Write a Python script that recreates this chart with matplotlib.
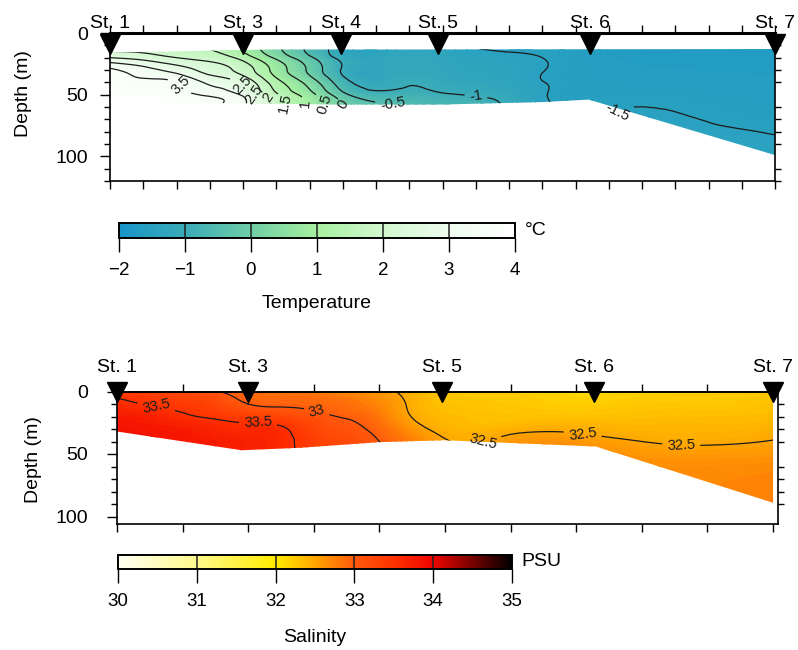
import numpy as np
import matplotlib
matplotlib.use("Agg")
import matplotlib.pyplot as plt
import matplotlib.tri as mtri
import matplotlib.transforms as mtransforms
from matplotlib.colors import LinearSegmentedColormap, Normalize
from matplotlib.patches import Polygon
from matplotlib.ticker import MultipleLocator
from matplotlib.cm import ScalarMappable

plt.rcParams['font.family'] = ['Liberation Sans', 'DejaVu Sans']

# stations (distance along section, km)
temp_stations = ['St. 1', 'St. 3', 'St. 4', 'St. 5', 'St. 6', 'St. 7']
temp_station_km = [0, 40, 69.5, 98.5, 144.5, 200]
sal_stations = ['St. 1', 'St. 3', 'St. 5', 'St. 6', 'St. 7']
sal_station_km = [0, 40, 99, 145.5, 200]

# ---- temperature section (deg C) ----
t_dist = [0, 10, 20, 30, 40, 50, 60, 70, 85, 100, 115, 130, 145, 170, 200]
t_depth = [10, 20, 30, 40, 50, 60, 80, 100]
t_10m = [1.6, 1.7, 1.7, 1.4, 0.9, 0.1, -0.6, -1.2, -1.3, -1.35, -1.6, -1.62, -1.65, -1.7, -1.7]
t_20m = [2.5, 2.3, 2.0, 1.8, 1.3, 0.4, -0.4, -1.15, -1.25, -1.3, -1.42, -1.5, -1.62, -1.68, -1.68]
t_30m = [3.6, 3.2, 2.8, 2.3, 1.8, 0.8, -0.1, -1.05, -1.2, -1.25, -1.35, -1.49, -1.6, -1.65, -1.66]
t_40m = [3.8, 3.6, 3.5, 2.9, 2.4, 1.2, 0.3, -0.8, -1.1, -1.15, -1.28, -1.49, -1.6, -1.62, -1.64]
t_50m = [3.9, 3.8, 3.7, 3.4, 2.9, 1.6, 0.7, -0.35, -0.85, -0.95, -1.1, -1.47, -1.58, -1.58, -1.62]
t_60m = [3.9, 3.9, 3.8, 3.6, 3.1, 1.8, 0.9, 0.05, -0.45, -0.7, -0.9, -1.45, -1.53, -1.52, -1.6]
t_80m = [3.9, 3.9, 3.9, 3.7, 3.2, 1.9, 1.0, 0.2, -0.4, -0.65, -0.85, -1.4, -1.45, -1.4, -1.52]
t_100m = [3.9, 3.9, 3.9, 3.7, 3.2, 1.9, 1.0, 0.2, -0.4, -0.65, -0.85, -1.38, -1.42, -1.35, -1.4]
# sampled area: upper and lower limits
t_top_km = [0, 47, 200]
t_top_d = [16, 13.5, 13]
t_bot_km = [0, 40, 70, 100, 130, 144, 200]
t_bot_d = [56, 57, 58, 58, 56, 54, 99]

# ---- salinity section (PSU) ----
s_dist = [0, 10, 20, 30, 40, 50, 60, 70, 80, 90, 100, 120, 140, 160, 180, 200]
s_depth = [0, 10, 20, 30, 40, 50, 70, 100]
s_0m = [33.42, 33.35, 33.2, 33.02, 32.9, 32.85, 32.8, 32.7, 32.6, 32.4, 32.25, 32.2, 32.15, 32.18, 32.2, 32.25]
s_10m = [33.58, 33.48, 33.4, 33.25, 33.0, 32.95, 32.92, 32.85, 32.7, 32.45, 32.3, 32.25, 32.2, 32.25, 32.25, 32.3]
s_20m = [33.75, 33.7, 33.55, 33.45, 33.35, 33.25, 33.1, 32.97, 32.8, 32.49, 32.35, 32.3, 32.3, 32.32, 32.33, 32.35]
s_30m = [33.85, 33.8, 33.75, 33.65, 33.6, 33.55, 33.25, 33.1, 32.9, 32.62, 32.42, 32.42, 32.45, 32.4, 32.4, 32.42]
s_40m = [33.9, 33.85, 33.8, 33.75, 33.7, 33.6, 33.35, 33.2, 33.0, 32.75, 32.52, 32.58, 32.6, 32.5, 32.47, 32.51]
s_50m = [33.9, 33.85, 33.8, 33.75, 33.7, 33.6, 33.4, 33.25, 33.05, 32.8, 32.6, 32.65, 32.7, 32.6, 32.58, 32.6]
s_70m = [33.9, 33.85, 33.8, 33.75, 33.7, 33.6, 33.4, 33.25, 33.05, 32.82, 32.65, 32.7, 32.75, 32.7, 32.7, 32.72]
s_100m = [33.9, 33.85, 33.8, 33.75, 33.7, 33.6, 33.4, 33.25, 33.05, 32.82, 32.65, 32.7, 32.75, 32.72, 32.75, 32.78]
s_top_km = [0, 200]
s_top_d = [0, 0]
s_bot_km = [0, 38, 56, 80, 100, 146, 200]
s_bot_d = [32, 47, 45, 40.5, 39, 44, 89]

# colour scales
temp_cmap = LinearSegmentedColormap.from_list('temp', [
    (0.0, '#1895c8'), (1/6, '#3aacb8'), (2/6, '#6fcea6'), (3/6, '#a6f0a0'),
    (4/6, '#d2f8cf'), (5/6, '#eefcee'), (1.0, '#ffffff')])
sal_cmap = LinearSegmentedColormap.from_list('sal', [
    (0.0, '#fffff2'), (0.2, '#fffa8c'), (0.4, '#ffeb00'), (0.5, '#ffa600'),
    (0.6, '#ff5a0c'), (0.7, '#ff3300'), (0.8, '#f00500'), (1.0, '#000000')])
temp_norm = Normalize(-2, 4)
sal_norm = Normalize(30, 35)


def section(ax, dist, depth, rows, top_km, top_d, bot_km, bot_d,
            cmap, norm, line_levels, label_pos):
    X, Y = np.meshgrid(dist, depth)
    Z = np.array(rows)
    tri = mtri.Triangulation(X.ravel(), Y.ravel())
    tri_f, z_f = mtri.UniformTriRefiner(tri).refine_field(Z.ravel(), subdiv=3)
    verts = list(zip(top_km, top_d)) + list(zip(bot_km[::-1], bot_d[::-1]))
    area = Polygon(verts, closed=True, facecolor='none', edgecolor='none')
    ax.add_patch(area)
    cf = ax.tricontourf(tri_f, z_f, levels=np.linspace(norm.vmin, norm.vmax, 121),
                        cmap=cmap, norm=norm, extend='both')
    cf.set_clip_path(area)
    cl = ax.tricontour(tri_f, z_f, levels=line_levels, colors='#1c1c1c',
                       linewidths=0.9, linestyles='solid')
    cl.set_clip_path(area)
    ax.clabel(cl, manual=label_pos, inline=True, fontsize=10.5, fmt='%g', colors='#1c1c1c')


def frame(ax, xmax, ymax, xstep, names, km, marker_dy, name_dy, top_lw, ypad, ylab_xy):
    ax.set_xlim(0, xmax)
    ax.set_ylim(ymax, 0)
    ax.xaxis.set_major_locator(MultipleLocator(xstep))
    ax.yaxis.set_major_locator(MultipleLocator(50))
    ax.yaxis.set_minor_locator(MultipleLocator(10))
    ax.tick_params(axis='x', which='both', top=True, bottom=True, direction='out',
                   length=6, width=1, labelbottom=False, labeltop=False)
    ax.tick_params(axis='y', which='major', left=True, right=False, direction='out',
                   length=7.5, width=1, labelsize=14, pad=ypad)
    ax.tick_params(axis='y', which='minor', left=True, right=True, direction='out',
                   length=4, width=1)
    for s in ax.spines.values():
        s.set_linewidth(1.2)
    ax.spines['top'].set_linewidth(top_lw)
    ax.set_ylabel('Depth (m)', fontsize=14)
    ax.yaxis.set_label_coords(*ylab_xy)
    off = mtransforms.offset_copy(ax.transData, fig=ax.figure, y=marker_dy, units='dots')
    ax.plot(km, [0] * len(km), 'v', color='black', markersize=14.5,
            transform=off, clip_on=False, zorder=10)
    for n, x in zip(names, km):
        ax.annotate(n, (x, 0), xytext=(0, name_dy), textcoords='offset pixels',
                    ha='center', va='baseline', fontsize=14, annotation_clip=False)


def colorbar(fig, rect, cmap, norm, ticks, unit, label, lpad):
    cax = fig.add_axes(rect)
    cb = fig.colorbar(ScalarMappable(norm=norm, cmap=cmap), cax=cax,
                      orientation='horizontal', ticks=ticks)
    cb.outline.set_linewidth(1.4)
    for t in ticks[1:-1]:
        cax.axvline(t, color='#222222', lw=1.1)
    cax.tick_params(direction='out', length=10, width=1, labelsize=13.5, pad=7)
    cax.set_xlabel(label, fontsize=14, labelpad=lpad)
    cax.text(1.025, 0.5, unit, transform=cax.transAxes, ha='left', va='center', fontsize=14)


fig = plt.figure(figsize=(7.98, 6.5), dpi=100)

ax1 = fig.add_axes([110 / 798, 1 - 181 / 650, 665 / 798, 148 / 650])
section(ax1, t_dist, t_depth, [t_10m, t_20m, t_30m, t_40m, t_50m, t_60m, t_80m, t_100m],
        t_top_km, t_top_d, t_bot_km, t_bot_d, temp_cmap, temp_norm,
        np.arange(-2, 4.01, 0.5),
        [(23, 40), (40, 42), (44, 48), (47, 53), (54, 57), (58, 57), (66, 57), (71, 57),
         (85, 57), (110, 52), (152, 61)])
frame(ax1, 200, 120, 10, temp_stations, temp_station_km, -10.5, 5, 2.2,
      8.5, (-0.117, 0.59))

ax2 = fig.add_axes([117 / 798, 1 - 524 / 650, 661 / 798, 132.5 / 650])
section(ax2, s_dist, s_depth, [s_0m, s_10m, s_20m, s_30m, s_40m, s_50m, s_70m, s_100m],
        s_top_km, s_top_d, s_bot_km, s_bot_d, sal_cmap, sal_norm,
        [32.5, 33, 33.5],
        [(12, 12), (43, 24), (61, 15), (111, 35), (142, 33), (172, 43)])
frame(ax2, 201.5, 106, 20, sal_stations, sal_station_km, 0, 20, 1.4,
      13.5, (-0.113, 0.49))

colorbar(fig, [119 / 798, 1 - 238 / 650, 396 / 798, 15 / 650], temp_cmap, temp_norm,
         [-2, -1, 0, 1, 2, 3, 4], '°C', 'Temperature', 12)
colorbar(fig, [118 / 798, 1 - 569 / 650, 394 / 798, 14 / 650], sal_cmap, sal_norm,
         [30, 31, 32, 33, 34, 35], 'PSU', 'Salinity', 14)

fig.savefig('out.png', dpi=100)
